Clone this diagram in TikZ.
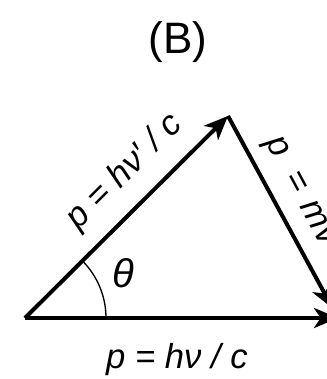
\documentclass[tikz,border=0pt]{standalone}
\usepackage{fontspec}
\setmainfont{Liberation Sans}
\usetikzlibrary{arrows.meta}
\begin{document}
\begin{tikzpicture}[x=0.75pt,y=-0.75pt,
  vec/.style={line width=3pt,-{Stealth[length=18pt,width=15pt,inset=5pt]}},
  lbl/.style={font=\fontsize{26}{28}\selectfont\itshape, inner sep=0pt}]
\useasboundingbox (0,0) rectangle (327,379);
\clip (0,0) rectangle (327,379);
\fill[white] (0,0) rectangle (327,379);
\coordinate (O) at (25,318);
\coordinate (A) at (228,116);
\coordinate (B) at (338,318);
\draw[line width=1pt] (106,318) arc[start angle=0,end angle=-45,radius=81];
\draw[vec] (O) -- (A);
\draw[vec,shorten >=8pt] (A) -- (B);
\draw[vec] (O) -- (B);
\node[font=\fontsize{33}{35}\selectfont, inner sep=0pt] (title) at (178,42) {(B)};
\node[lbl, font=\fontsize{30}{32}\selectfont\itshape] (theta) at (123,273) {θ};
\node[lbl, rotate=45] (l1) at (125,172) {p = hν′ / c};
\node[lbl] (l2) at (177,360) {p = hν / c};
\node[lbl, rotate=-61.6, anchor=west] (l3) at (270,140) {p\hspace{0.3em} = \hspace{0.1em}mv};
\end{tikzpicture}
\end{document}
